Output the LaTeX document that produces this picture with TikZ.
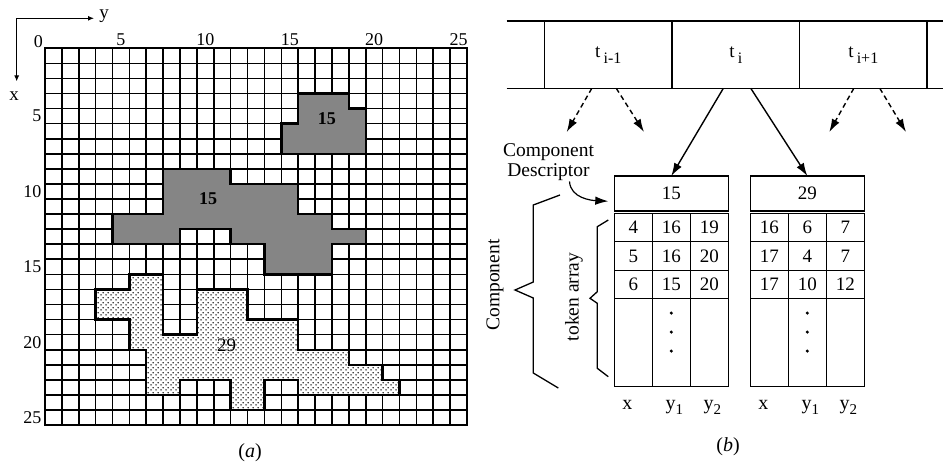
\documentclass[tikz,border=0pt]{standalone}
\usepackage{fontspec}
\setmainfont{Liberation Serif}
\usepackage{tikz}
\usetikzlibrary{positioning,arrows.meta,patterns.meta}

\newcommand{\lowsub}[1]{\,\raisebox{-6pt}{\fontsize{16}{16}\selectfont #1}}
\newcommand{\colsub}[1]{\raisebox{-5pt}{\fontsize{15}{15}\selectfont #1}}

\tikzdeclarepattern{
  name=sparsedots,
  type=uncolored,
  bounding box={(0pt,0pt) and (5pt,5pt)},
  tile size={(5pt,5pt)},
  code={
    \fill (1.25pt,1.25pt) circle (0.9pt);
    \fill (3.75pt,3.75pt) circle (0.9pt);
  }
}

\begin{document}
\begin{tikzpicture}[
        x=1pt, y=-1pt,
        every node/.style = {font=\fontsize{19}{21}\selectfont},
        gridline/.style = {line width=1.6pt},
        darkblob/.style = {fill=black!48, draw, line width=2.4pt},
        dotblob/.style = {preaction={fill=white}, pattern=sparsedots, draw, line width=2.4pt},
        numlab/.style = {inner sep=1pt, font=\fontsize{18}{18}\selectfont},
        axisarr/.style = {-{Latex[length=6pt,width=5pt]}, line width=1.1pt},
        tapecell/.style = {draw, line width=1.2pt, minimum width=127.5pt, minimum height=67.3pt, inner sep=0pt, outer sep=0pt},
        descbox/.style = {draw, line width=1.2pt, minimum width=114pt, minimum height=35pt, inner sep=0pt, outer sep=0pt},
        tokcell/.style = {draw, line width=1.2pt, minimum width=38pt, minimum height=28.3pt, inner sep=0pt, outer sep=0pt},
        tailcell/.style = {tokcell, minimum height=88.3pt},
        ptr/.style = {-{Latex[length=13pt,width=8.5pt]}, line width=1.4pt},
        dptr/.style = {ptr, dash pattern=on 5pt off 3.5pt},
        collab/.style = {inner sep=0pt, anchor=north, text height=10pt, text depth=4pt, font=\fontsize{20}{20}\selectfont},
        node distance = 22pt
    ]
    \useasboundingbox (0,0) rectangle (943,466);

    \begin{scope}[shift={(45,48.3)}, x=16.88pt, y=-15.07pt]
        \foreach \i in {0,...,25} {
            \draw[gridline] (\i,0) -- (\i,25);
            \draw[gridline] (0,\i) -- (25,\i);
        }
        \draw[darkblob] (15,3) -- (18,3) -- (18,4) -- (19,4) -- (19,7) -- (14,7) -- (14,5) -- (15,5) -- cycle;
        \draw[darkblob] (7,8) -- (11,8) -- (11,9) -- (15,9) -- (15,11) -- (17,11) -- (17,12) -- (19,12) -- (19,13)
            -- (17,13) -- (17,15) -- (13,15) -- (13,13) -- (11,13) -- (11,12) -- (8,12) -- (8,13) -- (4,13)
            -- (4,11) -- (7,11) -- cycle;
        \draw[dotblob] (5,15) -- (7,15) -- (7,19) -- (9,19) -- (9,16) -- (12,16) -- (12,18) -- (15,18) -- (15,20)
            -- (18,20) -- (18,21) -- (20,21) -- (20,22) -- (21,22) -- (21,23) -- (15,23) -- (15,22) -- (13,22)
            -- (13,24) -- (11,24) -- (11,22) -- (8,22) -- (8,23) -- (6,23) -- (6,20) -- (5,20) -- (5,18)
            -- (3,18) -- (3,16) -- (5,16) -- cycle;
        \draw[line width=2pt] (0,0) rectangle (25,25);
        \node[numlab, anchor=east] (c0) at (-0.05,-0.45) {0};
        \foreach \k in {5,10,...,25} {
            \node[numlab] (c\k) at (\k-0.5,-0.6) {\k};
            \node[numlab, anchor=east] (r\k) at (-0.15,\k-0.5) {\k};
        }
        \node[font=\bfseries\fontsize{18}{18}\selectfont] (sa) at (16.7,4.65) {15};
        \node[font=\bfseries\fontsize{18}{18}\selectfont] (sb) at (9.67,9.95) {15};
        \node[font=\fontsize{19}{19}\selectfont] (sc) at (10.76,19.69) {29};
    \end{scope}

    \coordinate (axo) at (16.7,18.3);
    \node[inner sep=1pt] (ylab) at (104,16) {y};
    \node[inner sep=1pt] (xlab) at (14,96) {x};
    \draw[axisarr, shorten >=4pt] (axo) -- (axo -| ylab.west);
    \draw[axisarr, shorten >=9pt] (axo) -- (axo |- xlab.north);
    \node[font=\fontsize{20}{20}\selectfont] (capa) at (250,453) {(\textit{a})};

    \node[tapecell] (tprev) at (608.3,54.7) {t\lowsub{i-1}};
    \node[tapecell, right=0pt of tprev] (ti) {t\lowsub{i}};
    \node[tapecell, right=0pt of ti] (tnext) {t\lowsub{i+1}};
    \coordinate (tapeL) at (506.7,21);
    \coordinate (tapeR) at (943,21);
    \draw[line width=1.2pt] (tapeL) -- (tapeR);
    \draw[line width=1.2pt] (tapeL |- tprev.south) -- (tapeR |- tprev.south);

    \node[descbox] (d15) at (671.3,193.5) {15};
    \node[descbox, right=of d15] (d29) {29};
    \foreach \x/\ya/\yb [count=\r from 0] in {4/16/19, 5/16/20, 6/15/20} {
        \foreach \v [count=\c from 0] in {\x,\ya,\yb}
            \node[tokcell, anchor=north west] (p\r\c) at ([shift={(\c*38,2.5+\r*28.3)}]d15.south west) {\v};
    }
    \foreach \x/\ya/\yb [count=\r from 0] in {16/6/7, 17/4/7, 17/10/12} {
        \foreach \v [count=\c from 0] in {\x,\ya,\yb}
            \node[tokcell, anchor=north west] (q\r\c) at ([shift={(\c*38,2.5+\r*28.3)}]d29.south west) {\v};
    }
    \foreach \c in {0,1,2} {
        \node[tailcell, anchor=north west] (p3\c) at ([shift={(\c*38,2.5+3*28.3)}]d15.south west) {};
        \node[tailcell, anchor=north west] (q3\c) at ([shift={(\c*38,2.5+3*28.3)}]d29.south west) {};
    }
    \foreach \k in {-8.5,10.5,29.5} {
        \fill ([yshift=\k pt]p31.center) circle (1.7pt);
        \fill ([yshift=\k pt]q31.center) circle (1.7pt);
    }
    \foreach \p in {p,q} {
        \node[collab, below=13pt of \p30, xshift=-6pt] (\p lx) {x};
        \node[collab, below=13pt of \p31, xshift=3pt] (\p ly) {y\colsub{1}};
        \node[collab, below=13pt of \p32, xshift=3pt] (\p lz) {y\colsub{2}};
    }

    \coordinate (da) at (566.7,132);
    \coordinate (db) at (644,132);
    \coordinate (dc) at (829.3,132);
    \coordinate (dd) at (906,132);
    \draw[dptr] ([xshift=-16.5pt]tprev.south) -- (da);
    \draw[dptr] ([xshift=8pt]tprev.south) -- (db);
    \draw[ptr] ([xshift=-12.5pt]ti.south) -- (d15.north);
    \draw[ptr] ([xshift=15pt]ti.south) -- (d29.north);
    \draw[dptr] ([xshift=-9.5pt]tnext.south) -- (dc);
    \draw[dptr] ([xshift=16.5pt]tnext.south) -- (dd);

    \node[align=center, inner sep=1pt, font=\fontsize{19.5}{19.5}\selectfont] (cdesc) at (548.5,162) {Component\\Descriptor};
    \draw[ptr, line width=1.2pt, shorten >=6pt] ([xshift=21pt]cdesc.south) .. controls +(1,17) and +(-22,-1) .. ([yshift=-8pt]d15.west);

    \draw[line width=1.3pt] (560,195) -- (533.3,205) -- (533.3,282) -- (515,290) -- (533.3,298) -- (533.3,373) -- (558.3,388);
    \node[rotate=90, font=\fontsize{19.5}{20}\selectfont] (comp) at (495,285) {Component};
    \draw[line width=1.3pt] (608.3,220) -- (597.3,226.7) -- (597.3,291.7) -- (590,298.3) -- (597.3,303.3) -- (597.3,368.3) -- (608.3,376.7);
    \node[rotate=90, font=\fontsize{19.5}{20}\selectfont] (tarr) at (574,297) {token array};

    \node[font=\fontsize{20}{20}\selectfont] (capb) at (728,447) {(\textit{b})};
\end{tikzpicture}
\end{document}
